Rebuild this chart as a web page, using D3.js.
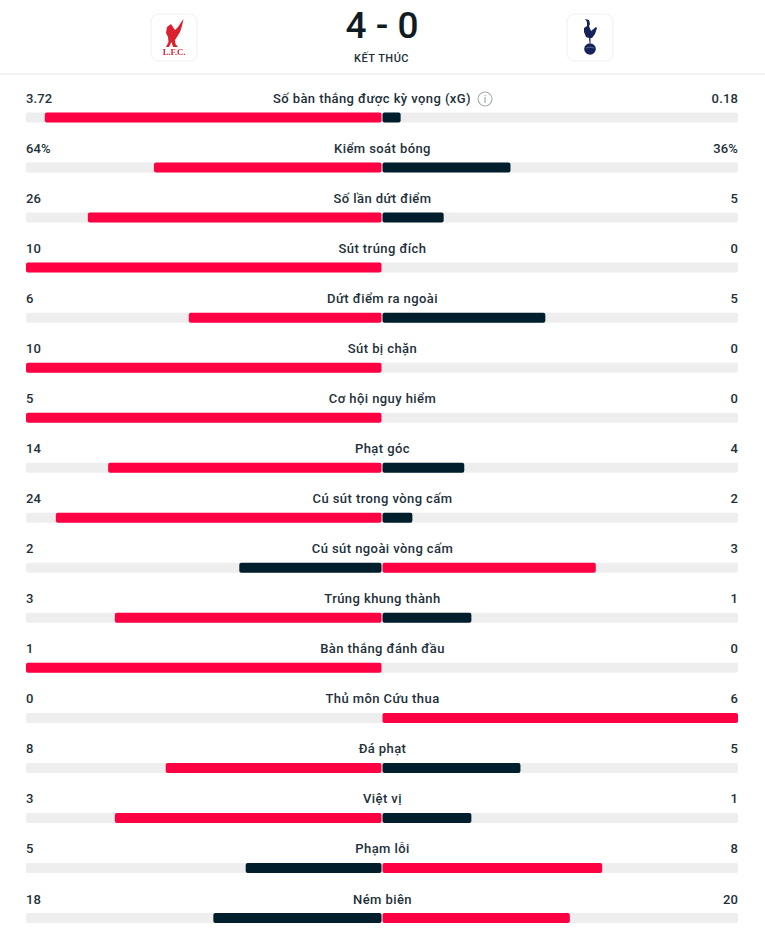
<!DOCTYPE html>
<meta charset="utf-8">
<style>
	html, body { margin: 0; padding: 0; background: #fff; }
	svg { display: block; }
	text { font-family: Roboto, "Noto Sans", sans-serif; fill: #22303a; }
	.val { font-size: 13px; font-weight: 500; letter-spacing: 0.15px; }
	.lab { font-size: 13px; font-weight: 500; letter-spacing: 0.42px; }
	.score { font-size: 37px; font-weight: 500; fill: #0f1c24; }
	.status { font-size: 11px; font-weight: 500; letter-spacing: 0.5px; }
</style>
<script src="https://cdnjs.cloudflare.com/ajax/libs/d3/7.8.5/d3.min.js"></script>
<svg id="chart" width="765" height="940"></svg>
<script>

	var categories = ["Số bàn thắng được kỳ vọng (xG)", "Kiểm soát bóng", "Số lần dứt điểm", "Sút trúng đích",
		"Dứt điểm ra ngoài", "Sút bị chặn", "Cơ hội nguy hiểm", "Phạt góc", "Cú sút trong vòng cấm",
		"Cú sút ngoài vòng cấm", "Trúng khung thành", "Bàn thắng đánh đầu", "Thủ môn Cứu thua",
		"Đá phạt", "Việt vị", "Phạm lỗi", "Ném biên"];
	var homeLabels = ["3.72", "64%", "26", "10", "6", "10", "5", "14", "24", "2", "3", "1", "0", "8", "3", "5", "18"];
	var awayLabels = ["0.18", "36%", "5", "0", "5", "0", "0", "4", "2", "3", "1", "0", "6", "5", "1", "8", "20"];
	// bar lengths in percent of half the track
	var homeShare = [94.7, 64, 82.6, 100, 54.2, 100, 100, 76.9, 91.6, 40, 75, 100, 0, 60.7, 75, 38.2, 47.3];
	var awayShare = [5.1, 36, 17.2, 0, 45.8, 0, 0, 23, 8.4, 60, 25, 0, 100, 38.8, 25, 61.8, 52.7];

	var red = "#ff0043", dark = "#001e2b", track = "#eeeeee";

	var svg = d3.select("#chart");

	svg.append("defs").append("filter").attr("id", "soft")
		.append("feGaussianBlur").attr("stdDeviation", 0.45);

	var y = d3.scaleLinear().domain([0, categories.length - 1]).range([112.5, 913]);
	var left = d3.scaleLinear().domain([0, 100]).range([381.5, 26]);
	var right = d3.scaleLinear().domain([0, 100]).range([382.5, 738]);
	var barHeight = 10;

	// header
	svg.append("line").attr("x1", 0).attr("x2", 765).attr("y1", 74).attr("y2", 74)
		.attr("stroke", "#eeeeee").attr("stroke-width", 1.5);
	svg.append("text").attr("class", "score").attr("x", 382).attr("y", 38).attr("text-anchor", "middle")
		.attr("xml:space", "preserve").text("4 - 0");
	svg.append("text").attr("class", "status").attr("x", 381.5).attr("y", 62).attr("text-anchor", "middle").text("KẾT THÚC");

	function logoBox(x) {
		svg.append("rect").attr("x", x).attr("y", 14).attr("width", 46).attr("height", 47).attr("rx", 8)
			.attr("fill", "#fff").attr("stroke", "#f2f2f2").attr("stroke-width", 1.2);
	}
	logoBox(151);
	logoBox(567);

	// liver bird
	var bird = svg.append("g").attr("transform", "translate(174,0)").attr("fill", "#d9222f").attr("filter", "url(#soft)");
	bird.append("path").attr("d", "M-7,27 L-3,24 L-1,27 L1,30 L4,27 L8,21 L9.5,19 L8,26 L6,32 L3,37 L1,40 L1.5,44 L4,47 L-1,47 L-2.5,42 L-5,47 L-8,47 L-5.5,42 L-6,37 L-8,33 Z");
	bird.append("text").attr("x", 0).attr("y", 54.5).attr("text-anchor", "middle")
		.style("font-family", "Liberation Serif").style("font-size", "8.5px").style("font-weight", "700").style("fill", "#d9222f").text("L.F.C.");

	// cockerel on ball
	var cock = svg.append("g").attr("transform", "translate(590,0)").attr("fill", "#14235a").attr("filter", "url(#soft)");
	cock.append("path").attr("d", "M-5,19 L-1,20 L0,24 L-1,26 L1,31 L6,27 L7,28 L5,34 L2,38 L0.5,38 L0.5,43 L-0.5,43 L-1,38 L-4,37 L-6,32 L-6,28 L-3,26 L-3,22 Z");
	cock.append("circle").attr("cx", 0).attr("cy", 49).attr("r", 5.8);
	cock.append("path").attr("d", "M-4,48 Q0,46 4,48").attr("fill", "none").attr("stroke", "#6f7aa0").attr("stroke-width", 0.8);

	// rows
	var row = svg.selectAll("g.row").data(categories).enter().append("g").attr("class", "row");

	row.append("rect")
		.attr("x", left(100)).attr("y", function(d, i) { return y(i); })
		.attr("width", right(100) - left(100)).attr("height", barHeight).attr("rx", 2).attr("fill", track);

	row.append("rect")
		.attr("x", function(d, i) { return left(homeShare[i]); })
		.attr("y", function(d, i) { return y(i); })
		.attr("width", function(d, i) { return left(0) - left(homeShare[i]); })
		.attr("height", barHeight).attr("rx", 2)
		.attr("fill", function(d, i) { return homeShare[i] >= awayShare[i] ? red : dark; });

	row.append("rect")
		.attr("x", right(0))
		.attr("y", function(d, i) { return y(i); })
		.attr("width", function(d, i) { return right(awayShare[i]) - right(0); })
		.attr("height", barHeight).attr("rx", 2)
		.attr("fill", function(d, i) { return awayShare[i] > homeShare[i] ? red : dark; });

	row.append("text").attr("class", "val")
		.attr("x", left(100)).attr("y", function(d, i) { return y(i) - 9.5; })
		.text(function(d, i) { return homeLabels[i]; });

	row.append("text").attr("class", "val")
		.attr("x", right(100)).attr("y", function(d, i) { return y(i) - 9.5; }).attr("text-anchor", "end")
		.text(function(d, i) { return awayLabels[i]; });

	row.append("text").attr("class", "lab")
		.attr("x", function(d, i) { return i == 0 ? 372 : 382.5; }).attr("y", function(d, i) { return y(i) - 9.5; })
		.attr("text-anchor", "middle")
		.text(function(d) { return d; });

	// info icon next to xG
	var info = svg.append("g").attr("transform", "translate(485," + (y(0) - 13.5) + ")");
	info.append("circle").attr("r", 7).attr("fill", "none").attr("stroke", "#a9adb1").attr("stroke-width", 1.1);
	info.append("text").attr("y", 3.5).attr("text-anchor", "middle").style("font-size", "10px").style("fill", "#8f9498").text("i");

</script>
